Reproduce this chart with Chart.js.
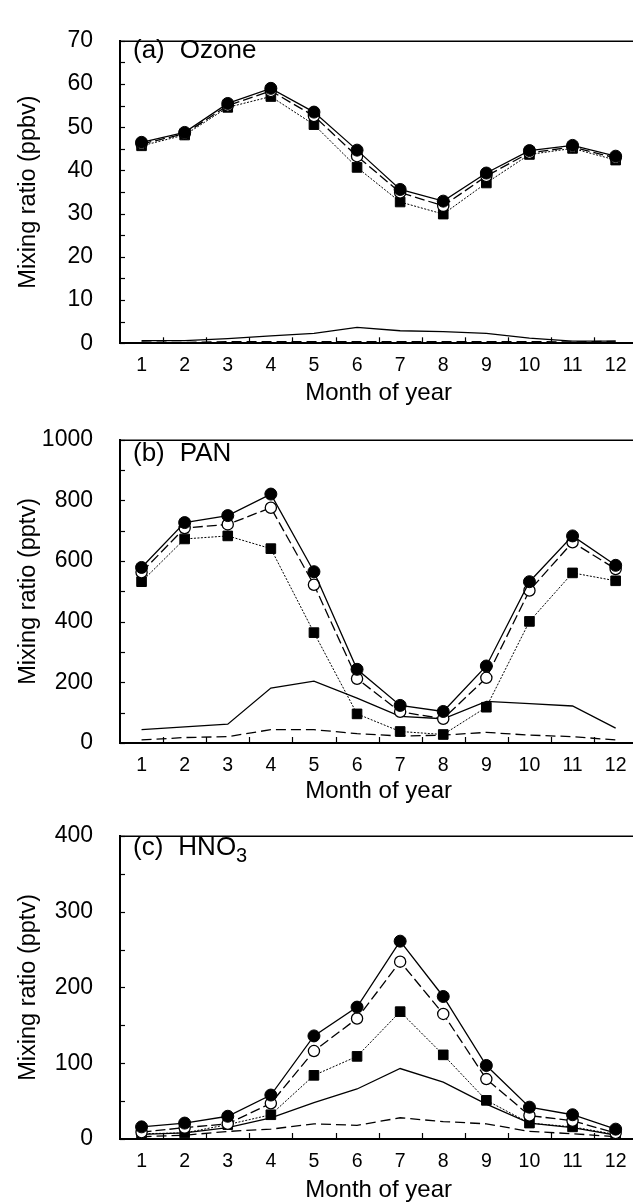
<!DOCTYPE html>
<html>
<head>
<meta charset="utf-8">
<script src="https://cdn.jsdelivr.net/npm/chart.js@4"></script>
<style>
  html, body { margin:0; padding:0; background:#fff; width:633px; height:1202px; overflow:hidden; }
  .wrap { position:absolute; left:0; width:645px; height:410px; }
  .lbl { position:absolute; left:133px; font-family:"Liberation Sans", Arial, sans-serif; font-size:26px; line-height:26px; color:#000; white-space:nowrap; }
  .lbl span.g { margin-left:15px; }
  sub { font-size:20px; vertical-align:-7px; line-height:0; }
</style>
</head>
<body>
<div class="wrap" style="top:0px"><canvas id="cA" width="645" height="410"></canvas></div>
<div class="wrap" style="top:399px"><canvas id="cB" width="645" height="410"></canvas></div>
<div class="wrap" style="top:795px"><canvas id="cC" width="645" height="410"></canvas></div>
<div class="lbl" style="top:36px">(a)<span class="g">Ozone</span></div>
<div class="lbl" style="top:439px">(b)<span class="g">PAN</span></div>
<div class="lbl" style="top:833px">(c)<span class="g">HNO<sub>3</sub></span></div>
<script>
// ---- data ----
const months = [1,2,3,4,5,6,7,8,9,10,11,12];

const ozoneTicks = [0,10,20,30,40,50,60,70];
const ozoneFilled = [46.5,48.8,55.5,59.0,53.5,44.7,35.6,32.9,39.4,44.6,45.8,43.3];
const ozoneOpen   = [46.1,48.5,55.0,58.4,52.6,43.3,34.9,31.8,38.7,44.1,45.4,42.9];
const ozoneSquare = [45.7,48.2,54.6,57.1,50.6,40.7,32.7,29.9,37.1,43.7,45.1,42.4];
const ozoneSolid  = [0.6,0.6,1.1,1.7,2.3,3.7,2.9,2.7,2.3,1.2,0.5,0.5];
const ozoneDashed = [0.3,0.2,0.4,0.4,0.4,0.4,0.4,0.4,0.4,0.4,0.3,0.5];

const panTicks = [0,200,400,600,800,1000];
const panFilled = [579,727,750,821,565,243,124,104,254,532,683,586];
const panOpen   = [563,709,721,776,522,212,103,80,215,503,662,574];
const panSquare = [532,673,683,641,364,96,38,28,118,401,561,535];
const panSolid  = [44,53,62,181,204,148,88,80,137,130,122,49];
const panDashed = [10,18,21,44,44,31,23,26,35,26,21,10];

const hno3Ticks = [0,100,200,300,400];
const hno3Filled = [16,21,30,58,136,174,261,188,97,42,32,13];
const hno3Open   = [9,15,20,47,116,159,234,165,79,31,24,8];
const hno3Square = [7,8,19,32,84,109,168,111,51,21,16,6];
const hno3Solid  = [6,8,15,28,48,66,93,75,46,21,15,5];
const hno3Dashed = [3,5,10,13,20,18,28,23,20,10,7,3];

// ---- drawing ----
const FONT = '"Liberation Sans", Arial, sans-serif';
const toXY = arr => months.map((m,i) => ({x:m, y:arr[i]}));

const frame = {
  id:'frame',
  afterDraw(chart) {
    const {ctx, chartArea:a, scales:{x, y}} = chart;
    ctx.save();
    ctx.strokeStyle = '#000';
    ctx.lineWidth = 1.5;
    ctx.beginPath(); ctx.moveTo(a.left, a.top + 0.5); ctx.lineTo(a.right + 10, a.top + 0.5); ctx.stroke();
    ctx.lineWidth = 1.2;
    const yt = chart.options.plugins.frame.ticks;
    const half = (yt[1]-yt[0])/2;
    for (let v = yt[0]; v <= yt[yt.length-1] + 1e-9; v += half) {
      const py = Math.round(y.getPixelForValue(v)) + 0.5;
      ctx.beginPath(); ctx.moveTo(a.left, py); ctx.lineTo(a.left + 5, py); ctx.stroke();
    }
    for (let i = 0; i < months.length - 1; i++) {
      const px = Math.round(x.getPixelForValue((months[i] + months[i+1]) / 2)) + 0.5;
      ctx.beginPath(); ctx.moveTo(px, a.bottom); ctx.lineTo(px, a.bottom - 6); ctx.stroke();
    }
    ctx.restore();
  }
};

function makeChart(id, ticks, filled, open, square, solid, dashed, yTitle, plotH, titlePad) {
  const lw = 1.3;
  new Chart(document.getElementById(id), {
    type: 'line',
    data: {
      datasets: [
        { data: toXY(filled), borderColor:'#000', borderWidth:lw, pointStyle:'circle', pointRadius:6,
          pointBackgroundColor:'#000', pointBorderColor:'#000', pointBorderWidth:1 },
        { data: toXY(open), borderColor:'#000', borderWidth:lw, borderDash:[10,4], pointStyle:'circle', pointRadius:5.6,
          pointBackgroundColor:'#fff', pointBorderColor:'#000', pointBorderWidth:1.3 },
        { data: toXY(square), borderColor:'#000', borderWidth:1, borderDash:[2,1.5], pointStyle:'rect', pointRadius:6.8,
          pointBackgroundColor:'#000', pointBorderColor:'#000', pointBorderWidth:1 },
        { data: toXY(solid), borderColor:'#000', borderWidth:lw, pointRadius:0 },
        { data: toXY(dashed), borderColor:'#000', borderWidth:lw, borderDash:[10,5], pointRadius:0 }
      ]
    },
    options: {
      responsive:false, animation:false, devicePixelRatio:1,
      layout: { padding: { top:24, right:7, left:0, bottom:0 } },
      elements: { line: { tension:0, fill:false } },
      plugins: { legend:{display:false}, tooltip:{enabled:false}, frame:{ticks} },
      scales: {
        x: {
          type:'linear', min:0.5, max:12.5,
          afterBuildTicks: s => { s.ticks = months.map(m => ({value:m})); },
          afterFit: s => { s.height = 410 - 24 - plotH; },
          grid: { display:false, drawTicks:false },
          border: { display:true, color:'#000', width:2 },
          ticks: { padding:11, color:'#000', font:{family:FONT, size:19.5}, maxRotation:0, autoSkip:false,
                   callback: v => String(v) },
          title: { display:true, text:'Month of year', color:'#000', font:{family:FONT, size:24}, padding:{top:0, bottom:titlePad} }
        },
        y: {
          min: ticks[0], max: ticks[ticks.length-1],
          afterBuildTicks: s => { s.ticks = ticks.map(v => ({value:v})); },
          afterFit: s => { s.width = 120; },
          grid: { display:false, drawTicks:false },
          border: { display:true, color:'#000', width:2 },
          ticks: { padding:27, color:'#000', font:{family:FONT, size:23}, callback: v => String(v) },
          title: { display:true, text:yTitle, color:'#000', font:{family:FONT, size:23.5}, padding:{top:14, bottom:0} }
        }
      }
    },
    plugins: [frame]
  });
}

makeChart('cA', ozoneTicks, ozoneFilled, ozoneOpen, ozoneSquare, ozoneSolid, ozoneDashed, 'Mixing ratio (ppbv)', 319.3, 2.6);
makeChart('cB', panTicks, panFilled, panOpen, panSquare, panSolid, panDashed, 'Mixing ratio (pptv)', 320, 3.6);
makeChart('cC', hno3Ticks, hno3Filled, hno3Open, hno3Square, hno3Solid, hno3Dashed, 'Mixing ratio (pptv)', 320, 0.6);
</script>
</body>
</html>
